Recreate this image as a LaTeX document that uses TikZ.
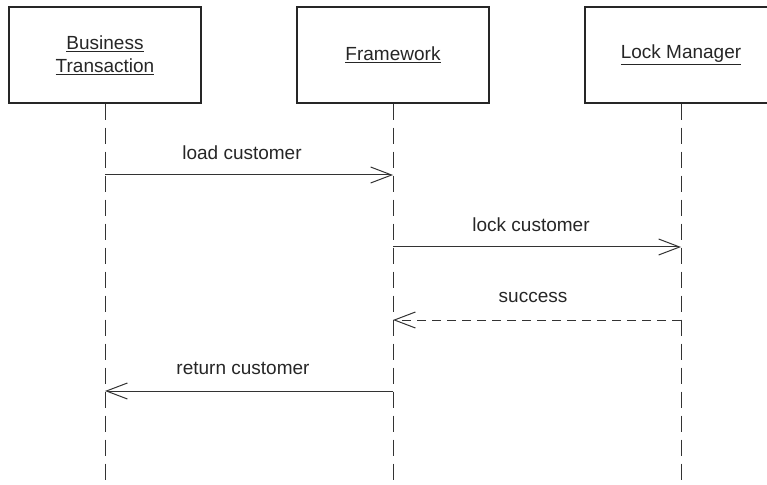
\documentclass[tikz,border=0pt]{standalone}
\usepackage{fontspec}
\setmainfont{Liberation Sans}
\usetikzlibrary{arrows.meta}
\begin{document}
\begin{tikzpicture}[x=1bp,y=-1bp,
  obj/.style={draw=black!85,line width=1.2bp,minimum width=192bp,minimum height=96bp,inner sep=0pt,
    font=\fontsize{19bp}{23bp}\selectfont,align=center,text=black!85},
  life/.style={draw=black!80,line width=1bp,dash pattern=on 16bp off 8bp},
  msg/.style={draw=black!80,line width=1bp,-{Straight Barb[length=21bp,width=16bp,line width=1bp]}},
  ret/.style={msg,dash pattern=on 9bp off 6bp},
  lbl/.style={font=\fontsize{19bp}{22bp}\selectfont,text=black!85,inner sep=0pt}]
\useasboundingbox (0,0) rectangle (767,485);
\clip (0,0) rectangle (767,485);
\node[obj] (bt) at (105,55) {\underline{Business}\\\underline{Transaction}};
\node[obj] (fw) at (393,55) {\underline{Framework}};
\node[obj] (lm) at (681,55) {\underline{Lock Manager}};
\coordinate (btend) at (105,490);
\coordinate (fwend) at (393,490);
\coordinate (lmend) at (681,490);
\draw[life] (bt.south) -- (btend);
\draw[life] (fw.south) -- (fwend);
\draw[life] (lm.south) -- (lmend);
\coordinate (bt1) at (105,175);
\coordinate (fw1) at (393,175);
\coordinate (fw2) at (393,247);
\coordinate (lm2) at (681,247);
\coordinate (lm3) at (681,320);
\coordinate (fw3) at (393,320);
\coordinate (fw4) at (393,391);
\coordinate (bt4) at (105,391);
\draw[msg] (bt1) -- (fw1);
\draw[msg] (fw2) -- (lm2);
\draw[ret] (lm3) -- (fw3);
\draw[msg] (fw4) -- (bt4);
\node[lbl] (l1) at (242,153) {load customer};
\node[lbl] (l2) at (531,225) {lock customer};
\node[lbl] (l3) at (533,297) {success};
\node[lbl] (l4) at (243,368) {return customer};
\end{tikzpicture}
\end{document}
